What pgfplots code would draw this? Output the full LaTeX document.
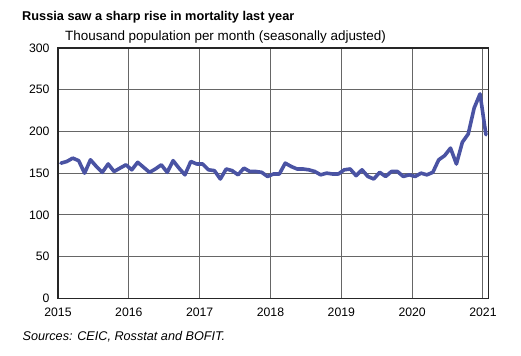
\documentclass[border=0pt]{standalone}
\usepackage{fontspec}
\setmainfont{Liberation Sans}
\usepackage{pgfplots}
\usepackage{pgfplotstable}
\pgfplotsset{compat=1.18}
\definecolor{lineblue}{RGB}{74,83,163}
\pgfplotstableread{
x y
2015.0417 162
2015.1250 164
2015.2083 168
2015.2917 165
2015.3750 150
2015.4583 166
2015.5417 158
2015.6250 151
2015.7083 161
2015.7917 152
2015.8750 156
2015.9583 160
2016.0417 154
2016.1250 163
2016.2083 157
2016.2917 151
2016.3750 155
2016.4583 160
2016.5417 151
2016.6250 165
2016.7083 156
2016.7917 148
2016.8750 164
2016.9583 161
2017.0417 161
2017.1250 154
2017.2083 153
2017.2917 143
2017.3750 155
2017.4583 153
2017.5417 148
2017.6250 156
2017.7083 152
2017.7917 152
2017.8750 151
2017.9583 146
2018.0417 149
2018.1250 149
2018.2083 162
2018.2917 158
2018.3750 155
2018.4583 155
2018.5417 154
2018.6250 152
2018.7083 148
2018.7917 150
2018.8750 149
2018.9583 149
2019.0417 154
2019.1250 155
2019.2083 147
2019.2917 154
2019.3750 146
2019.4583 143
2019.5417 151
2019.6250 146
2019.7083 152
2019.7917 152
2019.8750 146
2019.9583 148
2020.0417 146
2020.1250 150
2020.2083 148
2020.2917 151
2020.3750 166
2020.4583 171
2020.5417 180
2020.6250 161
2020.7083 187
2020.7917 197
2020.8750 228
2020.9583 245
2021.0417 196
}\deaths
\begin{document}
\begin{tikzpicture}
\path (-58bp,-57.7bp) rectangle (463bp,298.3bp);
\begin{axis}[
  name=ax,
  at={(0,0)}, anchor=south west,
  scale only axis,
  width=430.3bp, height=250.3bp,
  xmin=2015, xmax=2021.075,
  ymin=0, ymax=300,
  xtick={2015,2016,...,2021},
  ytick={0,50,...,300},
  xticklabel style={/pgf/number format/1000 sep={}, font=\fontsize{12.3}{14}\selectfont, yshift=-6bp},
  yticklabel style={font=\fontsize{12.3}{14}\selectfont, xshift=-5bp},
  /pgf/number format/assume math mode=true,
  major tick length=0pt,
  grid=major,
  grid style={black!60, line width=1bp},
  axis line style={black!85, line width=1.3bp},
  clip=false,
]
\addplot[lineblue, line width=3.6bp, line join=round, line cap=round] table[x=x,y=y] {\deaths};
\end{axis}
\node[anchor=west, inner sep=0pt, font=\bfseries\fontsize{12.8}{14}\selectfont] at (-36bp,281.5bp) {Russia saw a sharp rise in mortality last year};
\node[anchor=west, inner sep=0pt, font=\fontsize{13.5}{15}\selectfont] at (7bp,261.6bp) {Thousand population per month (seasonally adjusted)};
\node[anchor=west, inner sep=0pt, font=\itshape\fontsize{12.7}{14}\selectfont] at (-35.5bp,-38.7bp) {Sources: CEIC, Rosstat and BOFIT.};
\end{tikzpicture}
\end{document}
